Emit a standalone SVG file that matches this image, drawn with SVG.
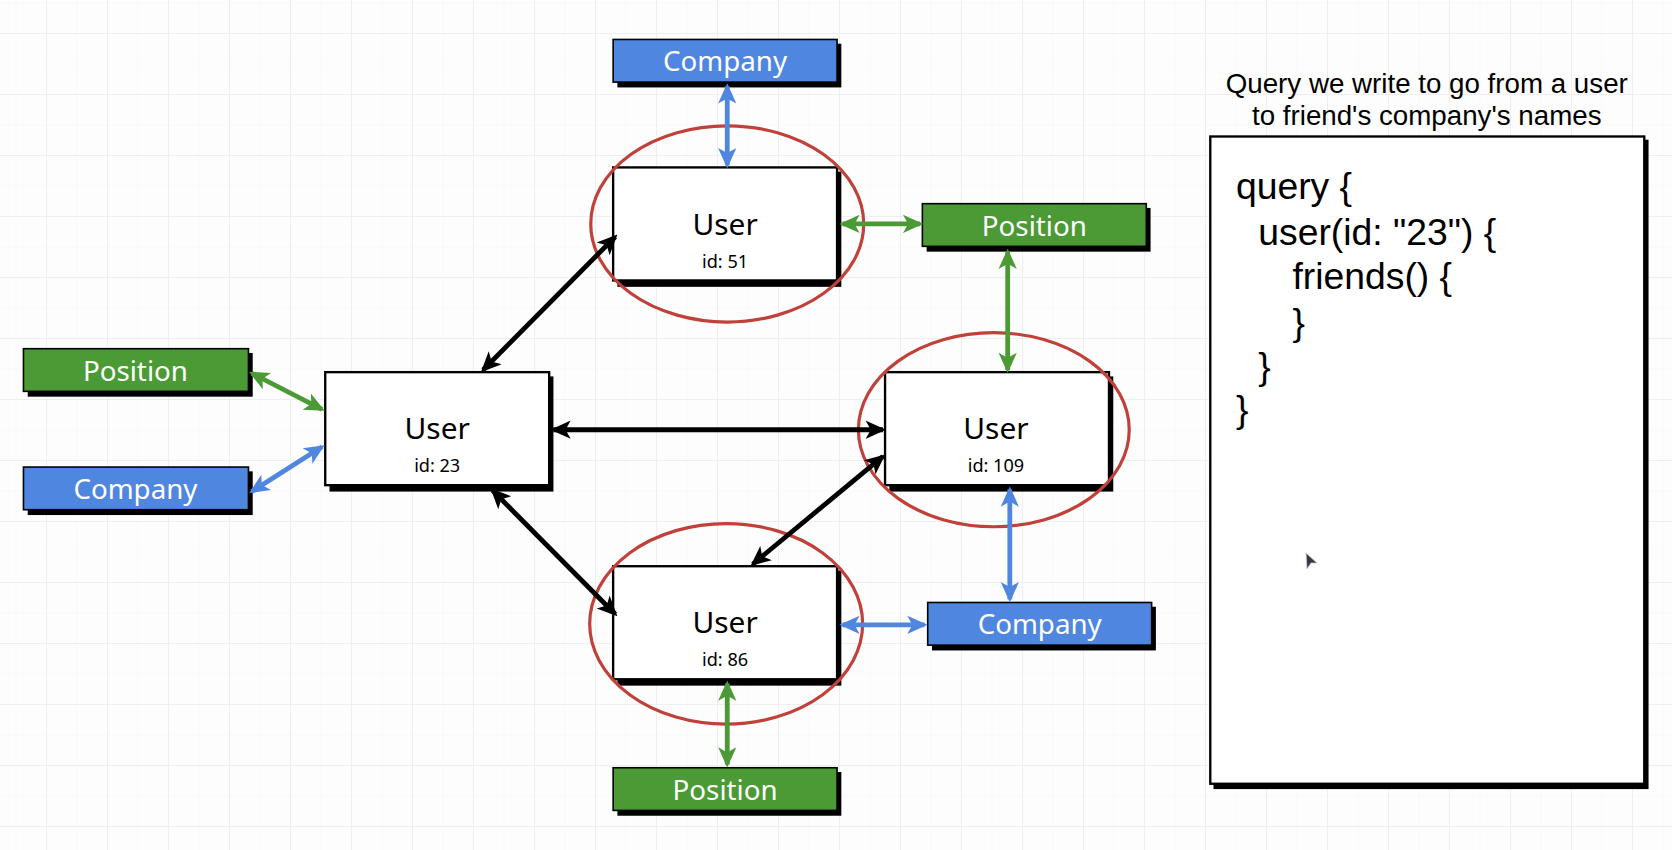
<svg xmlns="http://www.w3.org/2000/svg" width="1672" height="850" viewBox="0 0 1672 850">
  <defs>
    <pattern id="gridMinor" width="30.5" height="30.5" patternUnits="userSpaceOnUse" x="-15" y="-28">
      <path d="M0,0 H30.5 M0,0 V30.5" stroke="#f7f7f7" stroke-width="1.5" fill="none"/>
    </pattern>
    <pattern id="gridMajor" width="61" height="61" patternUnits="userSpaceOnUse" x="-15" y="-28">
      <path d="M0,0 H61 M0,0 V61" stroke="#efefef" stroke-width="2" fill="none"/>
    </pattern>
    <marker id="arrK" viewBox="0 0 10 10" refX="8.5" refY="5" markerWidth="19" markerHeight="19" markerUnits="userSpaceOnUse" orient="auto-start-reverse">
      <path d="M0,0.5 L10,5 L0,9.5 L2.5,5 z" fill="#000"/>
    </marker>
    <marker id="arrB" viewBox="0 0 10 10" refX="8.5" refY="5" markerWidth="19" markerHeight="19" markerUnits="userSpaceOnUse" orient="auto-start-reverse">
      <path d="M0,0.5 L10,5 L0,9.5 L2.5,5 z" fill="#4f86e0"/>
    </marker>
    <marker id="arrG" viewBox="0 0 10 10" refX="8.5" refY="5" markerWidth="19" markerHeight="19" markerUnits="userSpaceOnUse" orient="auto-start-reverse">
      <path d="M0,0.5 L10,5 L0,9.5 L2.5,5 z" fill="#4b9a35"/>
    </marker>
    <style>
      .shadow { fill: #000; }
      .box { fill: #fff; stroke: #000; stroke-width: 2.2; }
      .blue { fill: #4f86e0; stroke: #000; stroke-width: 1.5; }
      .green { fill: #4b9a35; stroke: #000; stroke-width: 1.5; }
      .ring { fill: none; stroke: #c0413a; stroke-width: 3; }
      .lbl { font-family: "Noto Sans", "Open Sans", sans-serif; font-size: 26px; fill: #fff; text-anchor: middle; }
      .uname { font-family: "Noto Sans", "Open Sans", sans-serif; font-size: 28px; fill: #000; text-anchor: middle; }
      .uid { font-family: "Noto Sans", "Open Sans", sans-serif; font-size: 17px; fill: #000; text-anchor: middle; }
      .title { font-family: "Liberation Sans", Arial, sans-serif; font-size: 26px; fill: #000; text-anchor: middle; }
      .code { font-family: "Liberation Sans", Arial, sans-serif; font-size: 35px; fill: #000; }
      .ck { stroke: #000; stroke-width: 4.5; fill: none; marker-start: url(#arrK); marker-end: url(#arrK); }
      .cb { stroke: #4f86e0; stroke-width: 4.5; fill: none; marker-start: url(#arrB); marker-end: url(#arrB); }
      .cg { stroke: #4b9a35; stroke-width: 4.5; fill: none; marker-start: url(#arrG); marker-end: url(#arrG); }
    </style>
  </defs>

  <rect width="1672" height="850" fill="#fdfdfd"/>
  <rect width="1672" height="850" fill="url(#gridMinor)"/>
  <rect width="1672" height="850" fill="url(#gridMajor)"/>

  <g transform="scale(1.06633)">
    <!-- Nodes -->
    <g id="company-top">
      <rect class="shadow" x="579" y="41" width="210" height="41"/>
      <rect class="blue" x="575" y="37" width="210" height="40"/>
      <text class="lbl" x="680" y="67">Company</text>
    </g>
    <g id="user-51">
      <rect class="shadow" x="579" y="161" width="210" height="108"/>
      <rect class="box" x="575" y="157" width="210" height="106"/>
      <text class="uname" x="680" y="220">User</text>
      <text class="uid" x="680" y="251">id: 51</text>
    </g>
    <g id="position-right">
      <rect class="shadow" x="869" y="195" width="210" height="41"/>
      <rect class="green" x="865" y="191" width="210" height="40"/>
      <text class="lbl" x="970" y="221">Position</text>
    </g>
    <g id="user-23">
      <rect class="shadow" x="309" y="353" width="210" height="108"/>
      <rect class="box" x="305" y="349" width="210" height="106"/>
      <text class="uname" x="410" y="412">User</text>
      <text class="uid" x="410" y="443">id: 23</text>
    </g>
    <g id="position-left">
      <rect class="shadow" x="26" y="331" width="211" height="41"/>
      <rect class="green" x="22" y="327" width="211" height="40"/>
      <text class="lbl" x="127" y="357">Position</text>
    </g>
    <g id="company-left">
      <rect class="shadow" x="26" y="442" width="211" height="41"/>
      <rect class="blue" x="22" y="438" width="211" height="40"/>
      <text class="lbl" x="127" y="468">Company</text>
    </g>
    <g id="user-109">
      <rect class="shadow" x="834" y="353" width="210" height="108"/>
      <rect class="box" x="830" y="349" width="210" height="106"/>
      <text class="uname" x="934" y="412">User</text>
      <text class="uid" x="934" y="443">id: 109</text>
    </g>
    <g id="user-86">
      <rect class="shadow" x="579" y="535" width="210" height="108"/>
      <rect class="box" x="575" y="531" width="210" height="106"/>
      <text class="uname" x="680" y="594">User</text>
      <text class="uid" x="680" y="625">id: 86</text>
    </g>
    <g id="company-right">
      <rect class="shadow" x="874" y="569" width="210" height="41"/>
      <rect class="blue" x="870" y="565" width="210" height="40"/>
      <text class="lbl" x="975" y="595">Company</text>
    </g>
    <g id="position-bottom">
      <rect class="shadow" x="579" y="724" width="210" height="41"/>
      <rect class="green" x="575" y="720" width="210" height="40"/>
      <text class="lbl" x="680" y="750">Position</text>
    </g>

    <!-- Friend highlight rings -->
    <g id="friend-rings">
      <ellipse class="ring" cx="682" cy="210" rx="128" ry="92"/>
      <ellipse class="ring" cx="932" cy="403" rx="127" ry="91"/>
      <ellipse class="ring" cx="681" cy="585" rx="128" ry="94"/>
    </g>

    <!-- Connectors -->
    <g id="connectors">
      <path class="cb" d="M682,81 L682,155"/>
      <path class="cg" d="M790,210 L863,210"/>
      <path class="cg" d="M945,236 L945,347"/>
      <path class="ck" d="M453,347 L577,222"/>
      <path class="ck" d="M519,403 L828,403"/>
      <path class="ck" d="M462,460 L577,576"/>
      <path class="ck" d="M828,428 L706,529"/>
      <path class="cg" d="M236,350 L302,384"/>
      <path class="cb" d="M236,461 L302,419"/>
      <path class="cb" d="M947,459 L947,562"/>
      <path class="cb" d="M790,586 L867,586"/>
      <path class="cg" d="M682,641 L682,717"/>
    </g>

    <!-- Query panel -->
    <g id="query-panel">
      <text class="title" x="1338" y="87">Query we write to go from a user</text>
      <text class="title" x="1338" y="117">to friend's company's names</text>
      <rect class="shadow" x="1138" y="131" width="408" height="609"/>
      <rect class="box" x="1135" y="128" width="407" height="607" stroke-width="2.5"/>
      <text class="code" x="1159" y="187">query {</text>
      <text class="code" x="1180" y="230">user(id: "23") {</text>
      <text class="code" x="1212" y="271">friends() {</text>
      <text class="code" x="1212" y="314">}</text>
      <text class="code" x="1180" y="355">}</text>
      <text class="code" x="1159" y="396">}</text>
    </g>
  </g>

  <!-- mouse cursor -->
  <polygon points="1306,553 1317,563 1311,563 1307,569" fill="#333a44" stroke="#c8ccd2" stroke-width="0.8"/>
</svg>
